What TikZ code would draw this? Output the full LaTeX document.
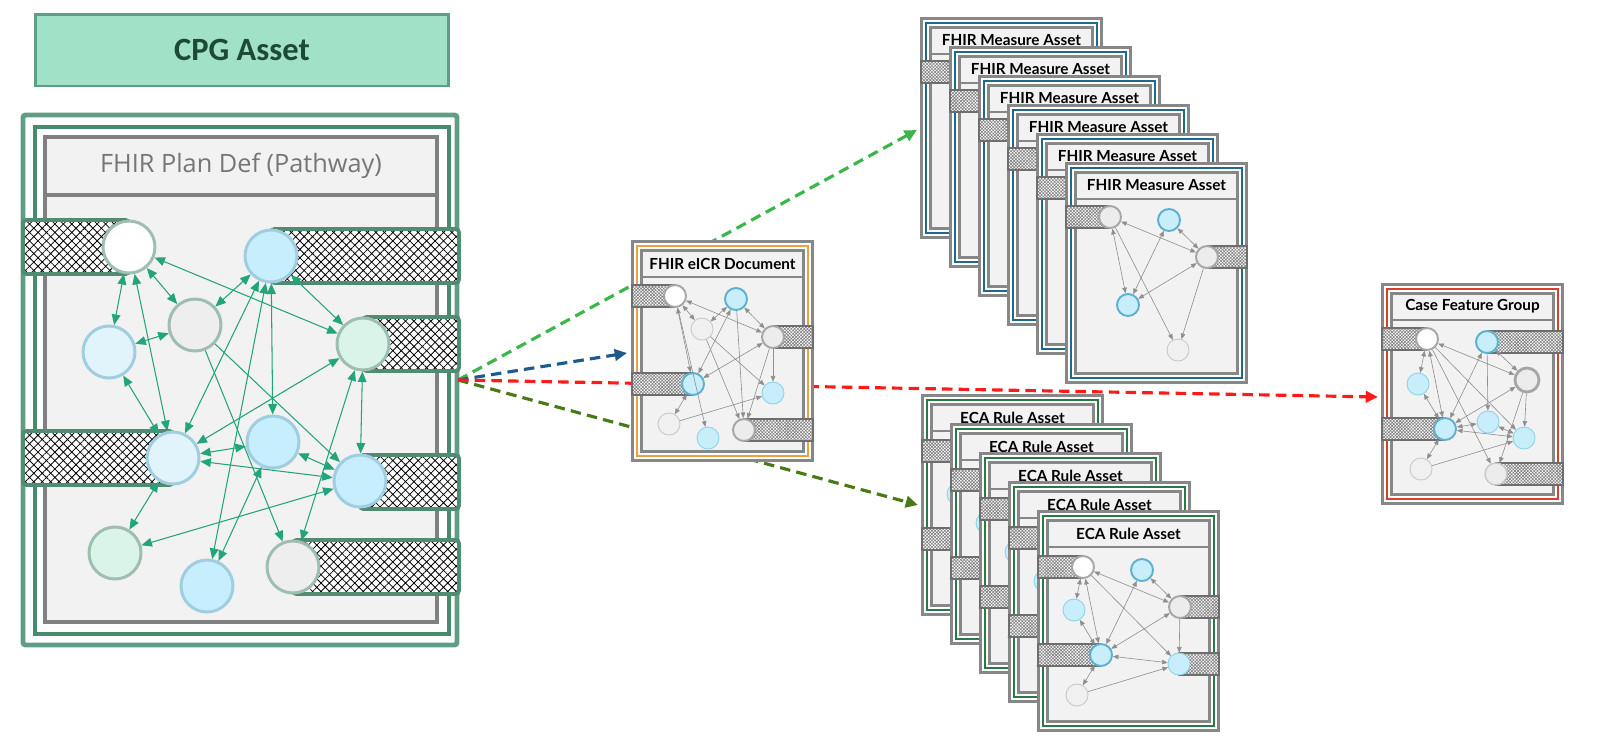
\documentclass[tikz,border=0pt]{standalone}
\usepackage{fontspec}
\newfontfamily\cardfont{Lato}
\newfontfamily\calfont{Carlito}
\newfontfamily\osfont{Open Sans}
\usetikzlibrary{arrows.meta,patterns.meta}

\definecolor{cgray}{HTML}{878787}
\definecolor{cbg}{HTML}{F2F2F2}
\definecolor{cblue}{HTML}{1F6A8A}
\definecolor{cgreen}{HTML}{2A7A48}
\definecolor{corange}{HTML}{EDA040}
\definecolor{cred}{HTML}{D9402B}
\definecolor{sbarc}{HTML}{6E6E6E}
\definecolor{sarrc}{HTML}{8F8F8F}
\definecolor{bluefill}{HTML}{C8EEFC}
\definecolor{bluedk}{HTML}{5DB0CF}
\definecolor{bluelt}{HTML}{8CD2EA}
\definecolor{gfill}{HTML}{ECECEC}
\definecolor{gstroke}{HTML}{A6A6A6}
\definecolor{lgfill}{HTML}{F0F0F0}
\definecolor{lgstroke}{HTML}{C8C8C8}
\definecolor{cpgfill}{HTML}{A0E1C8}
\definecolor{cpgdraw}{HTML}{5E9E84}
\definecolor{cpgtext}{HTML}{1C4A35}
\definecolor{frout}{HTML}{5F9E85}
\definecolor{frin}{HTML}{468B6B}
\definecolor{frgray}{HTML}{808080}
\definecolor{bbarc}{HTML}{4F8C72}
\definecolor{garr}{HTML}{22A57A}
\definecolor{bgs}{HTML}{9EBFB0}
\definecolor{bbs}{HTML}{A0CDE0}
\definecolor{bbf}{HTML}{C6EEFC}
\definecolor{blf}{HTML}{E2F4FB}
\definecolor{ggf}{HTML}{DAF4EA}
\definecolor{grf}{HTML}{EEEEEE}
\definecolor{dlg}{HTML}{3CB54A}
\definecolor{dbl}{HTML}{1F5A8C}
\definecolor{drd}{HTML}{FF1A1A}
\definecolor{ddg}{HTML}{4A7A18}
\definecolor{ptitle}{HTML}{767676}

\tikzset{
  sc/.style={circle, inner sep=0pt, minimum size=0.44cm},
  scwhite/.style={sc, fill=white, draw=gstroke, line width=1.1pt},
  scgray/.style={sc, fill=gfill, draw=gstroke, line width=1.1pt},
  scgraybig/.style={sc, minimum size=0.48cm, fill=gfill, draw=gstroke, line width=1.6pt},
  sclight/.style={sc, fill=lgfill, draw=lgstroke, line width=0.5pt},
  scblue/.style={sc, fill=bluefill, draw=bluedk, line width=1.1pt},
  scbluel/.style={sc, fill=bluefill, draw=bluelt, line width=0.5pt},
  sbar/.style={draw=sbarc, line width=1.2pt, preaction={fill=white},
    pattern={Hatch[angle=45,distance=1.3pt,line width=0.35pt]}, pattern color=gray},
  sarr/.style={draw=sarrc, line width=0.35pt, >={Triangle[length=3.2pt,width=2.6pt]}},
  cardtitle/.style={font=\cardfont\bfseries\fontsize{8.7pt}{10pt}\selectfont, text=black, inner sep=0pt},
  bc/.style={circle, inner sep=0pt, minimum size=1.04cm, line width=1.7pt},
  bigbar/.style={draw=bbarc, line width=2.2pt, preaction={fill=white},
    pattern={Hatch[angle=45,distance=3.4pt,line width=0.45pt]}, pattern color=black, rounded corners=2pt},
  barr/.style={draw=garr, line width=0.6pt, >={Triangle[length=6pt,width=5pt]}},
  darr/.style={line width=1.8pt, dash pattern=on 6pt off 3.5pt, -{Triangle[length=7pt,width=6.5pt]}},
  cpgbox/.style={draw=cpgdraw, fill=cpgfill, line width=1.7pt, minimum width=8.28cm, minimum height=1.44cm,
    font=\calfont\bfseries\fontsize{18.5pt}{20pt}\selectfont, text=cpgtext, inner sep=0pt},
  pdtitle/.style={font=\osfont\fontsize{14.4pt}{16pt}\selectfont, text=ptitle, inner sep=0pt},
  pics/card/.style n args={2}{code={
    \path[draw=cgray, line width=1.7pt, fill=white] (1.5,1.5) rectangle (181.5,220.5);
    \path[draw=#1, line width=1.2pt] (6,6) rectangle (177,216);
    \path[draw=cgray, line width=1.7pt, fill=cbg] (10.5,10.5) rectangle (172.5,211.5);
    \path[draw=cgray, line width=1.4pt] (10.5,37) -- (172.5,37);
    \node[cardtitle] (title) at (91.5,23.5) {#2};
  }},
  pics/measure/.style={code={
    \pic (f) {card={cblue}{FHIR Measure Asset}};
    \path[sbar] (1,44) rectangle (45,66);
    \path[sbar] (142,84) rectangle (182,106);
    \node[scgray] (A) at (45,55) {};
    \node[scblue] (B) at (104,58) {};
    \node[scgray] (R) at (142,95) {};
    \node[scblue] (C) at (63,143) {};
    \node[sclight] (D) at (113,188) {};
    \draw[sarr,<->] (A) -- (R);
    \draw[sarr,<->] (B) -- (R);
    \draw[sarr,<->] (R) -- (C);
    \draw[sarr,<->] (B) -- (C);
    \draw[sarr,<->] (A) -- (C);
    \draw[sarr,->] (A) -- (D);
    \draw[sarr,->] (R) -- (D);
  }},
  pics/eca/.style={code={
    \pic (f) {card={cgreen}{ECA Rule Asset}};
    \path[sbar] (1,46) rectangle (46,68);
    \path[sbar] (143,86) rectangle (182,108);
    \path[sbar] (1,134) rectangle (64,156);
    \path[sbar] (142,143) rectangle (182,165);
    \node[scwhite] (A) at (46,57) {};
    \node[scblue] (B) at (105,60) {};
    \node[scbluel] (E) at (37,100) {};
    \node[scgray] (R) at (143,97) {};
    \node[scblue] (C) at (64,145) {};
    \node[scbluel] (F) at (142,154) {};
    \node[sclight] (D) at (40,185) {};
    \draw[sarr,<->] (A) -- (E);
    \draw[sarr,<->] (A) -- (C);
    \draw[sarr,<->] (A) -- (R);
    \draw[sarr,->] (A) -- (F);
    \draw[sarr,<->] (B) -- (C);
    \draw[sarr,<->] (B) -- (R);
    \draw[sarr,<->] (R) -- (C);
    \draw[sarr,->] (R) -- (F);
    \draw[sarr,<->] (E) -- (C);
    \draw[sarr,<->] (C) -- (F);
    \draw[sarr,<->] (C) -- (D);
    \draw[sarr,->] (D) -- (F);
  }},
  pics/eicr/.style={code={
    \pic (f) {card={corange}{FHIR eICR Document}};
    \path[sbar] (1,45) rectangle (44,67);
    \path[sbar] (142,86) rectangle (182,108);
    \path[sbar] (1,133) rectangle (62,155);
    \path[sbar] (113,179) rectangle (182,201);
    \node[scwhite] (A) at (44,56) {};
    \node[scblue] (B) at (105,59) {};
    \node[sclight] (G) at (71,89) {};
    \node[scgray] (R) at (142,97) {};
    \node[scblue] (C) at (62,144) {};
    \node[scbluel] (F) at (142,153) {};
    \node[sclight] (D) at (38,184) {};
    \node[scbluel] (H) at (77,198) {};
    \node[scgray] (K) at (113,190) {};
    \draw[sarr,<->] (A) -- (R);
    \draw[sarr,<->] (A) -- (C);
    \draw[sarr,->] (A) -- (H);
    \draw[sarr,<->] (A) -- (G);
    \draw[sarr,<->] (B) -- (G);
    \draw[sarr,<->] (B) -- (C);
    \draw[sarr,<->] (B) -- (R);
    \draw[sarr,->] (B) -- (K);
    \draw[sarr,->] (G) -- (K);
    \draw[sarr,->] (G) -- (F);
    \draw[sarr,<->] (R) -- (C);
    \draw[sarr,->] (R) -- (F);
    \draw[sarr,->] (R) -- (K);
    \draw[sarr,<->] (C) -- (D);
    \draw[sarr,->] (D) -- (F);
  }},
  pics/cfg/.style={code={
    \pic (f) {card={cred}{Case Feature Group}};
    \path[sbar] (1,45) rectangle (46,67);
    \path[sbar] (106,48) rectangle (182,70);
    \path[sbar] (1,135) rectangle (64,157);
    \path[sbar] (115,180) rectangle (182,202);
    \node[scwhite] (A) at (46,56) {};
    \node[scblue] (B) at (106,59) {};
    \node[scbluel] (E) at (37,101) {};
    \node[scgraybig] (R) at (146,97) {};
    \node[scblue] (C) at (64,146) {};
    \node[scbluel] (M) at (107,139) {};
    \node[scbluel] (F) at (143,155) {};
    \node[sclight] (D) at (40,186) {};
    \node[sc, fill=gfill, draw=lgstroke, line width=0.8pt] (K) at (115,191) {};
    \draw[sarr,<->] (A) -- (E);
    \draw[sarr,<->] (A) -- (C);
    \draw[sarr,<->] (A) -- (R);
    \draw[sarr,->] (A) -- (F);
    \draw[sarr,->] (A) -- (K);
    \draw[sarr,<->] (B) -- (C);
    \draw[sarr,<->] (B) -- (R);
    \draw[sarr,->] (B) -- (M);
    \draw[sarr,<->] (R) -- (C);
    \draw[sarr,->] (R) -- (F);
    \draw[sarr,->] (R) -- (K);
    \draw[sarr,<->] (E) -- (C);
    \draw[sarr,<->] (C) -- (M);
    \draw[sarr,<->] (C) -- (F);
    \draw[sarr,<->] (C) -- (D);
    \draw[sarr,->] (D) -- (F);
    \draw[sarr,<->] (M) -- (F);
  }},
}

\begin{document}
\begin{tikzpicture}[x=0.02cm, y=-0.02cm]
\useasboundingbox (0,0) rectangle (1600,752);

% CPG title box
\node[cpgbox] (cpg) at (242,50) {CPG Asset};

% Plan definition frames
\draw[frout, line width=2.8pt, rounded corners=1.5pt] (23,115) rectangle (457,645);
\draw[frin, line width=2.3pt] (35,127) rectangle (449,634);
\draw[frgray, line width=2.3pt, fill=cbg] (45,137) rectangle (437,622);
\draw[frgray, line width=2.3pt] (45,195) -- (437,195);
\node[pdtitle] (pdt) at (241,166) {FHIR Plan Def (Pathway)};

% hatched bars
\path[bigbar] (23,220) rectangle (129,274);
\path[bigbar] (271,229) rectangle (459,283);
\path[bigbar] (363,317) rectangle (459,371);
\path[bigbar] (23,431) rectangle (173,485);
\path[bigbar] (360,455) rectangle (459,509);
\path[bigbar] (293,540) rectangle (459,594);

% circles
\node[bc, fill=white, draw=bgs] (pA) at (129,247) {};
\node[bc, fill=bbf, draw=bbs] (pB) at (271,256) {};
\node[bc, fill=grf, draw=bgs] (pG) at (195,325) {};
\node[bc, fill=blf, draw=bbs] (pE) at (109,352) {};
\node[bc, fill=ggf, draw=bgs] (pR) at (363,344) {};
\node[bc, fill=blf, draw=bbs] (pC) at (173,458) {};
\node[bc, fill=bbf, draw=bbs] (pM) at (273,442) {};
\node[bc, fill=bbf, draw=bbs] (pF) at (360,481) {};
\node[bc, fill=ggf, draw=bgs] (pD) at (115,553) {};
\node[bc, fill=bbf, draw=bbs] (pH) at (207,586) {};
\node[bc, fill=grf, draw=bgs] (pK) at (293,567) {};

% green connectors
\draw[barr,<->] (pA) -- (pE);
\draw[barr,<->] (pA) -- (pC);
\draw[barr,<->] (pA) -- (pG);
\draw[barr,<->] (pA) -- (pR);
\draw[barr,<->] (pB) -- (pG);
\draw[barr,<->] (pB) -- (pC);
\draw[barr,<->] (pB) -- (pH);
\draw[barr,<->] (pB) -- (pM);
\draw[barr,<->] (pB) -- (pR);
\draw[barr,->] (pG) -- (pK);
\draw[barr,->] (pG) -- (pF);
\draw[barr,<->] (pG) -- (pE);
\draw[barr,<->] (pE) -- (pC);
\draw[barr,<->] (pR) -- (pC);
\draw[barr,<->] (pR) -- (pK);
\draw[barr,<->] (pR) -- (pF);
\draw[barr,<->] (pM) -- (pC);
\draw[barr,<->] (pM) -- (pF);
\draw[barr,<->] (pM) -- (pH);
\draw[barr,<->] (pC) -- (pF);
\draw[barr,<->] (pC) -- (pD);
\draw[barr,<->] (pD) -- (pF);

% dashed links
\coordinate (src) at (458,380);
\coordinate (tm) at (917,130);
\coordinate (te) at (627,353);
\coordinate (tc) at (1378,397);
\coordinate (ta) at (918,505);
\draw[darr, dlg] (src) -- (tm);
\draw[darr, ddg] (src) -- (ta);
\draw[darr, dbl] (src) -- (te);
\draw[darr, drd] (src) -- (tc);

% measure stack
\pic (m1) at (920,17) {measure};
\pic (m2) at (949,46) {measure};
\pic (m3) at (978,75) {measure};
\pic (m4) at (1007,104) {measure};
\pic (m5) at (1036,133) {measure};
\pic (m6) at (1065,162) {measure};

% ECA stack
\pic (e1) at (921,394) {eca};
\pic (e2) at (950,423) {eca};
\pic (e3) at (979,452) {eca};
\pic (e4) at (1008,481) {eca};
\pic (e5) at (1037,510) {eca};

% eICR document
\pic (ei) at (631,240) {eicr};

% Case feature group
\pic (cf) at (1381,283) {cfg};
\end{tikzpicture}
\end{document}
